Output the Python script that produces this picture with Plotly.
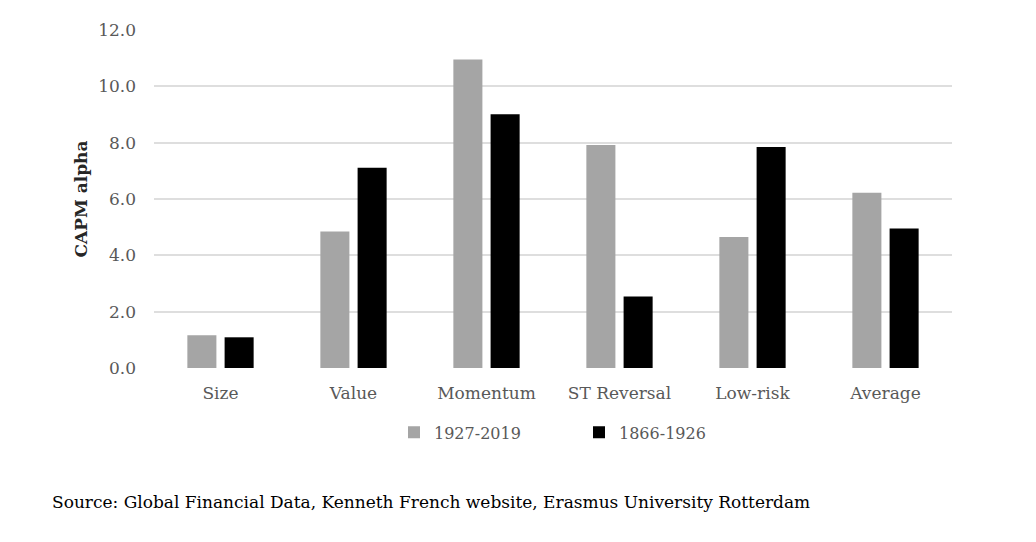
import plotly.graph_objects as go

categories = ["Size", "Value", "Momentum", "ST Reversal", "Low-risk", "Average"]
series_1927_2019 = [1.16, 4.85, 10.95, 7.92, 4.65, 6.22]
series_1866_1926 = [1.09, 7.11, 9.01, 2.54, 7.85, 4.95]
y_ticks = [0, 2, 4, 6, 8, 10, 12]
y_tick_labels = ["0.0", "2.0", "4.0", "6.0", "8.0", "10.0", "12.0"]

FONT = "DejaVu Serif"
OFF = 8  # page body margin
W, H = 1036 - OFF, 542 - OFF
L, R, T, B = 154 - OFF, 84, 27 - OFF, 174
plot_h = H - T - B
plot_w = W - L - R
plot_bottom_page = OFF + T + plot_h

def px_x(page_x):
    return (page_x - OFF - L) / plot_w

def px_y(page_y):
    return -(page_y - plot_bottom_page) / plot_h

fig = go.Figure()
fig.add_trace(go.Bar(name="1927-2019", x=categories, y=series_1927_2019,
                     marker=dict(color="#a5a5a5", line=dict(width=0))))
fig.add_trace(go.Bar(name="1866-1926", x=categories, y=series_1866_1926,
                     marker=dict(color="#000000", line=dict(width=0))))

fig.update_layout(
    width=W, height=H,
    margin=dict(l=L, r=R, t=T, b=B),
    plot_bgcolor="white", paper_bgcolor="white",
    barmode="group", bargap=0.44, bargroupgap=0.22,
    font=dict(family=FONT, color="#595959", size=17),
    showlegend=True,
    legend=dict(orientation="h", x=px_x(394), xanchor="left",
                y=px_y(433), yanchor="middle",
                font=dict(family=FONT, size=16, color="#595959"),
                entrywidth=140, entrywidthmode="pixels", itemwidth=30,
                bgcolor="rgba(0,0,0,0)"),
    annotations=[dict(
        text="Source: Global Financial Data, Kenneth French website, Erasmus University Rotterdam",
        xref="paper", yref="paper", x=px_x(50), y=px_y(503),
        xanchor="left", yanchor="middle", showarrow=False,
        font=dict(family=FONT, size=17, color="#000000"))],
)
fig.update_xaxes(showline=False, showgrid=False, ticks="", ticklabelstandoff=13,
                 tickfont=dict(family=FONT, size=17, color="#595959"))
fig.update_yaxes(range=[0, 12], tickvals=y_ticks, ticktext=y_tick_labels,
                 showgrid=True, gridcolor="#dedede", gridwidth=2,
                 zeroline=False, showline=False, ticks="", ticklabelstandoff=17,
                 tickfont=dict(family=FONT, size=17, color="#595959"),
                 title=dict(text="<b>CAPM alpha</b>", standoff=6,
                            font=dict(family=FONT, size=17, color="#262626")))

fig.write_html("out.html")
